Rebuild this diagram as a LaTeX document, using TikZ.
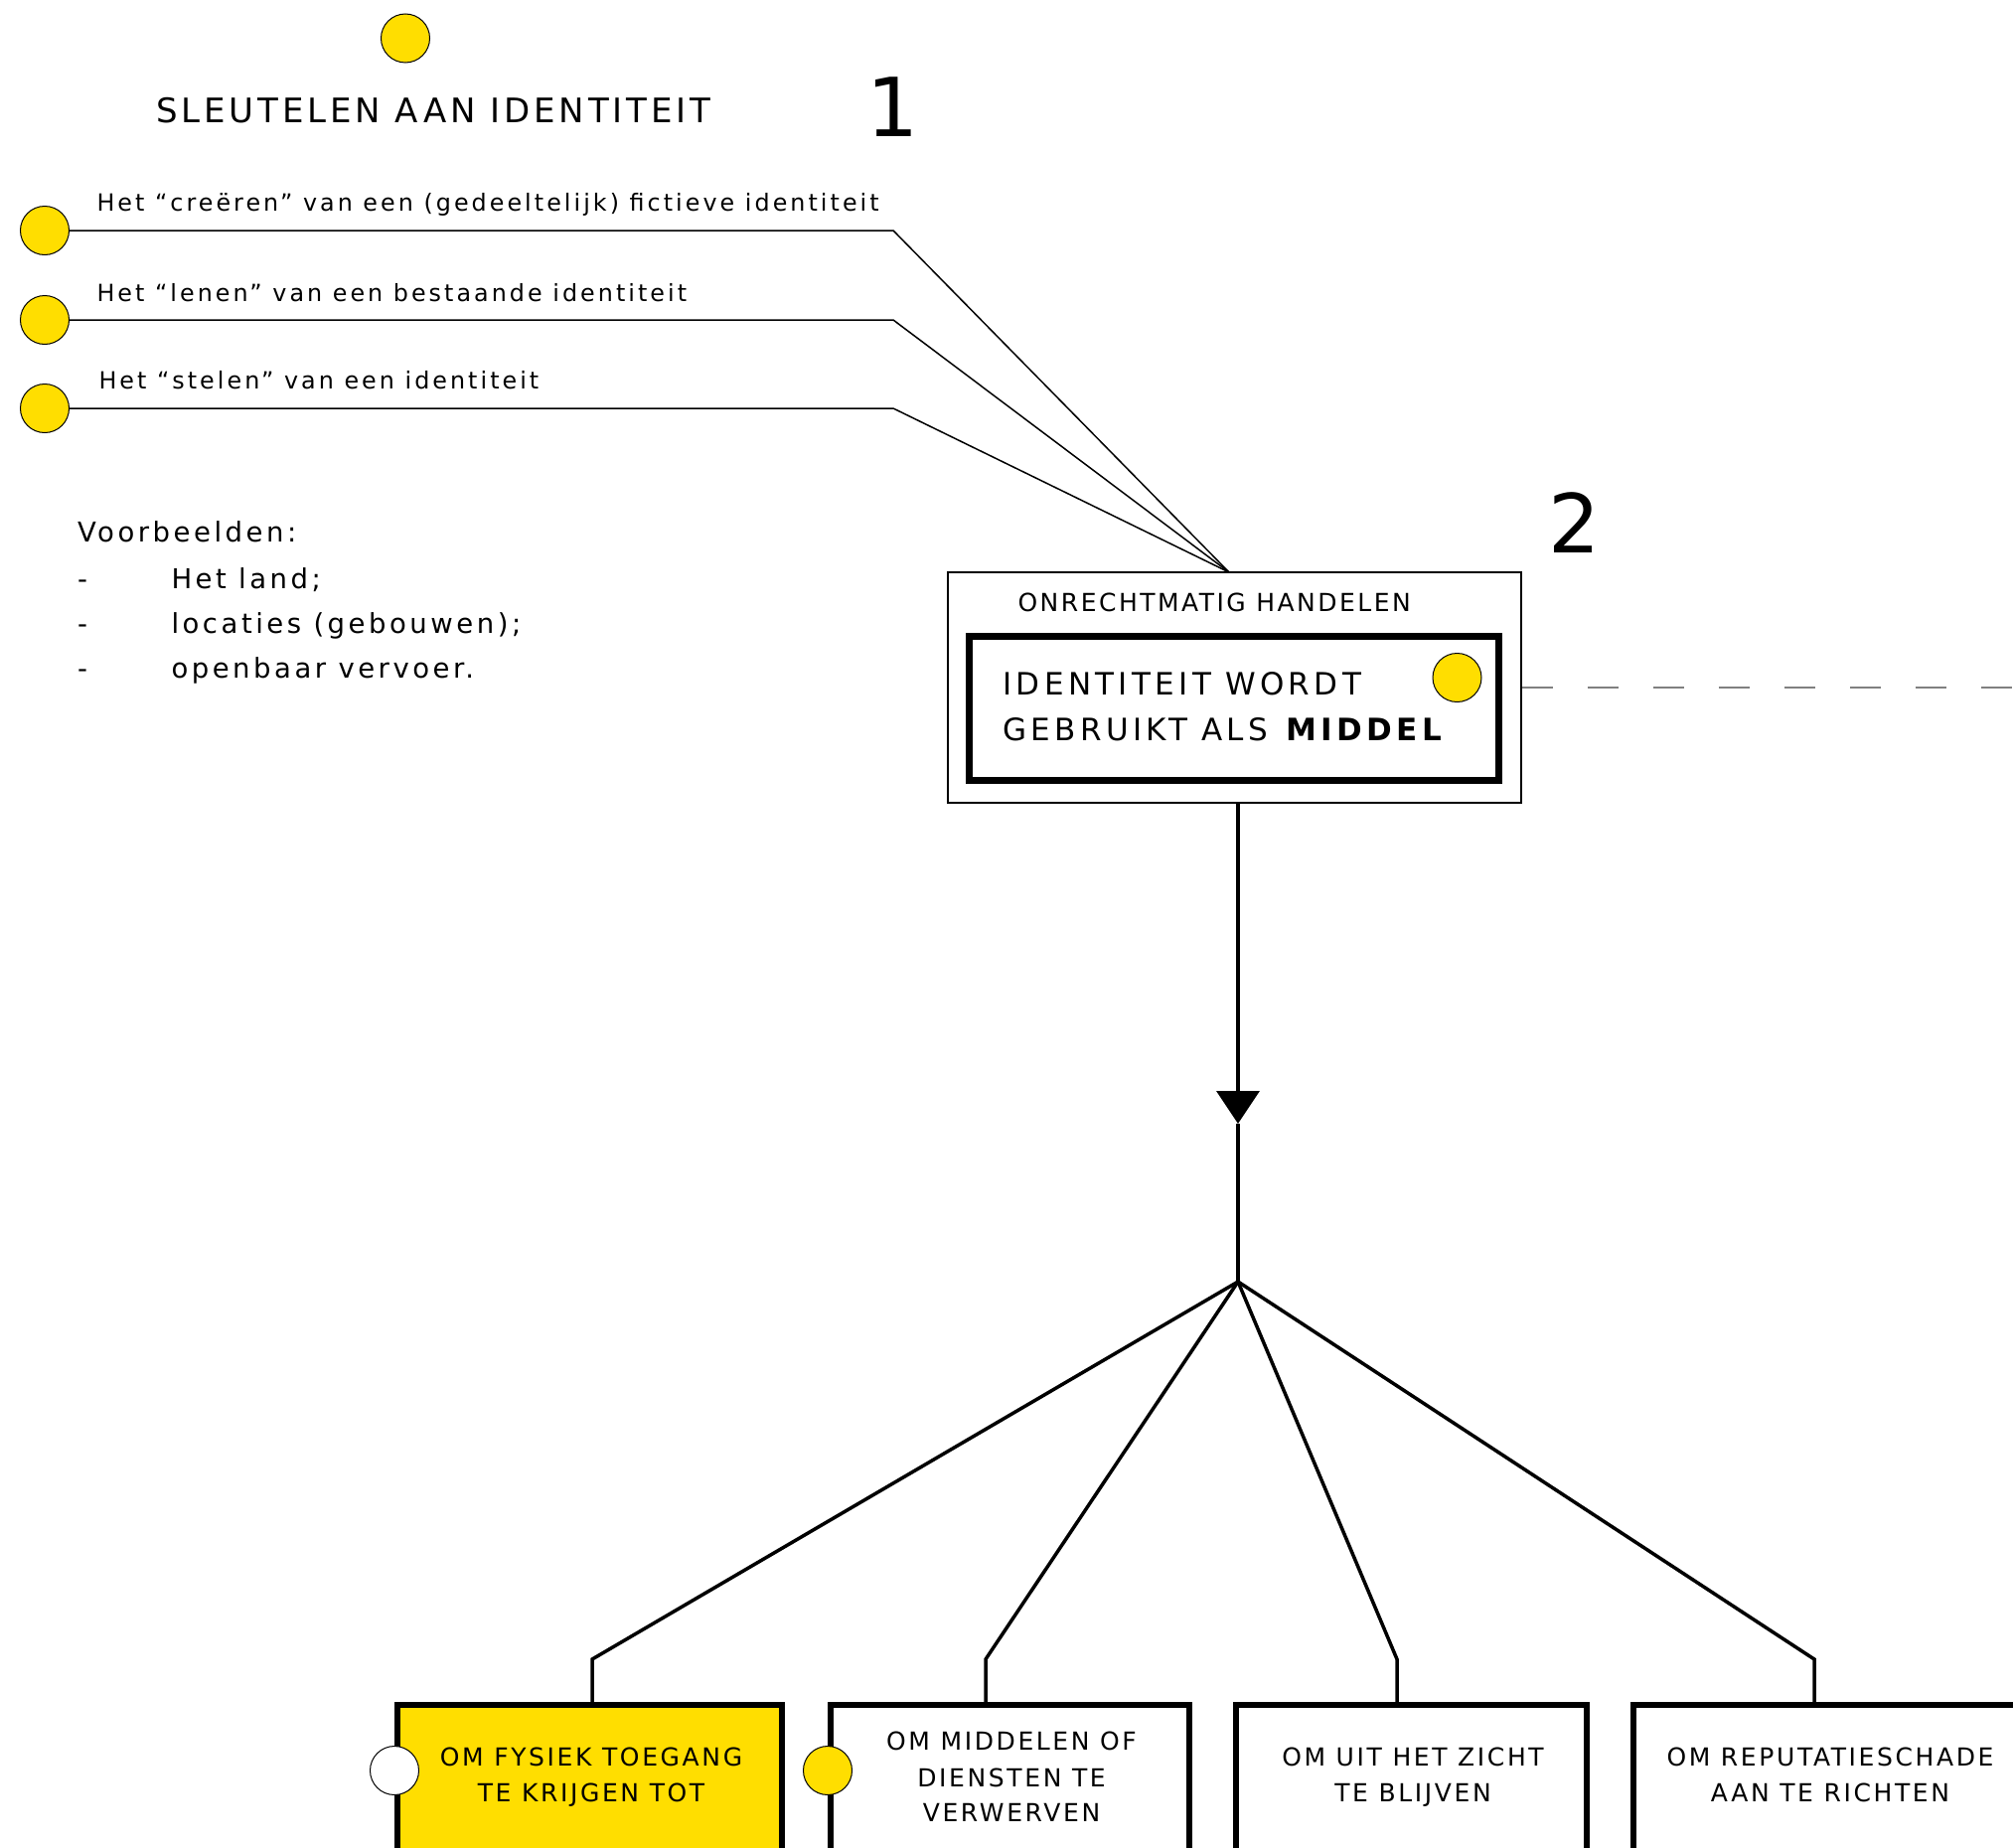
\documentclass[tikz,border=0pt]{standalone}
\usepackage{fontspec}
\setmainfont{DejaVu Sans}[LetterSpace=10.5]
\usetikzlibrary{arrows.meta}
\definecolor{yel}{HTML}{FFDE00}
\definecolor{dgrey}{HTML}{808080}
\begin{document}
\begin{tikzpicture}[x=1pt,y=-1pt,
  dot/.style={circle,draw=black,line width=1pt,fill=yel,minimum size=49pt,inner sep=0pt},
  wdot/.style={dot,fill=white},
  txt/.style={inner sep=0pt,outer sep=0pt,anchor=base west},
  ctxt/.style={inner sep=0pt,outer sep=0pt,anchor=base},
  thin/.style={line width=1.5pt},
  thick/.style={line width=3.5pt},
  goalbox/.style={draw,line width=6pt,inner sep=0pt,minimum height=149pt},
  smalltxt/.style={txt,font=\fontsize{23.8}{28}\selectfont\addfontfeature{LetterSpace=12.8}},
  listtxt/.style={txt,font=\fontsize{27.5}{32}\selectfont\addfontfeature{LetterSpace=12.8}}
]
\useasboundingbox (0,0) rectangle (2026,1860);

% top
\node[dot] (topdot) at (408,38.5) {};
\node[txt,font=\fontsize{34}{40}\selectfont\addfontfeature{LetterSpace=11.5}] (title) at (157,123) {SLEUTELEN AAN IDENTITEIT};
\node[ctxt,font=\fontsize{82}{90}\selectfont\addfontfeature{LetterSpace=0}] (one) at (899,137) {1};
\node[ctxt,font=\fontsize{82}{90}\selectfont\addfontfeature{LetterSpace=0}] (two) at (1584.5,556) {2};

% left dots and texts
\node[dot] (c1) at (45,232) {};
\node[dot] (c2) at (45,322) {};
\node[dot] (c3) at (45,411) {};
\node[smalltxt] (t1) at (97.5,212) {Het “creëren” van een (gedeeltelijk) fictieve identiteit};
\node[smalltxt] (t2) at (97.5,303) {Het “lenen” van een bestaande identiteit};
\node[smalltxt] (t3) at (99.5,391) {Het “stelen” van een identiteit};

% examples
\node[listtxt] (vb) at (78,545) {Voorbeelden:};
\node[listtxt] (d1) at (78,592) {-};
\node[listtxt] (d2) at (78,637) {-};
\node[listtxt] (d3) at (78,682) {-};
\node[listtxt] (e1) at (172.5,592) {Het land;};
\node[listtxt] (e2) at (172.5,637) {locaties (gebouwen);};
\node[listtxt] (e3) at (172.5,682) {openbaar vervoer.};

% central box
\node[draw,line width=1.5pt,minimum width=577pt,minimum height=232pt,inner sep=0pt] (outer) at (1242.5,692) {};
\node[draw,line width=7pt,minimum width=533pt,minimum height=145pt,inner sep=0pt] (inner) at (1242,713) {};
\node[txt,font=\fontsize{25}{30}\selectfont\addfontfeature{LetterSpace=10}] (onr) at (1024.5,615) {ONRECHTMATIG HANDELEN};
\node[txt,font=\fontsize{31}{36}\selectfont\addfontfeature{LetterSpace=14}] (id1) at (1009.5,699) {IDENTITEIT WORDT};
\node[txt,font=\fontsize{31}{36}\selectfont\addfontfeature{LetterSpace=14}] (id2) at (1009.5,745) {GEBRUIKT ALS \textbf{MIDDEL}};
\node[dot] (idot) at (1466.5,682) {};

% connectors from left dots
\coordinate (conv) at (1237,576);
\coordinate (k1) at (899,232);
\coordinate (k2) at (899,322);
\coordinate (k3) at (899,411);
\draw[thin] (c1.east) -- (k1) -- (conv);
\draw[thin] (c2.east) -- (k2) -- (conv);
\draw[thin] (c3.east) -- (k3) -- (conv);

% dashed line to right
\coordinate (rend) at (2030,692);
\draw[line width=2pt,dgrey,dash pattern=on 31pt off 35pt] (outer.east) -- (rend);

% vertical arrow
\coordinate (branch) at (1246,1290);
\coordinate (atip) at (1246,1131);
\draw[thick,-{Triangle[width=43pt,length=33pt]}] (outer.south -| branch) -- (atip);
\draw[thick] (atip) -- (branch);

% bottom boxes
\node[goalbox,fill=yel,minimum width=387pt] (b1) at (593.5,1790.5) {};
\node[goalbox,fill=white,minimum width=361pt] (b2) at (1016.5,1790.5) {};
\node[goalbox,fill=white,minimum width=353pt] (b3) at (1420.5,1790.5) {};
\node[goalbox,fill=white,minimum width=396pt] (b4) at (1842,1790.5) {};

\coordinate (m1) at (596,1670);
\coordinate (m2) at (992,1670);
\coordinate (m3) at (1406,1670);
\coordinate (m4) at (1826,1670);
\draw[thick] (branch) -- (m1) -- (b1.north -| m1);
\draw[thick] (branch) -- (m2) -- (b2.north -| m2);
\draw[thick] (branch) -- (m3) -- (b3.north -| m3);
\draw[thick] (branch) -- (m4) -- (b4.north -| m4);

\begin{scope}[every node/.append style={ctxt,font=\fontsize{25}{36}\selectfont\addfontfeature{LetterSpace=10.5}}]
\node (b1a) at (595,1777) {OM FYSIEK TOEGANG};
\node (b1b) at (595,1813) {TE KRIJGEN TOT};
\node (b2a) at (1018,1761) {OM MIDDELEN OF};
\node (b2b) at (1018,1798) {DIENSTEN TE};
\node (b2c) at (1018,1833) {VERWERVEN};
\node (b3a) at (1422,1777) {OM UIT HET ZICHT};
\node (b3b) at (1422,1813) {TE BLIJVEN};
\node (b4a) at (1842,1777) {OM REPUTATIESCHADE};
\node (b4b) at (1842,1813) {AAN TE RICHTEN};
\end{scope}

\node[wdot] (wd) at (b1.west |- 0,1782) {};
\node[dot] (yd) at (b2.west |- 0,1782) {};
\end{tikzpicture}
\end{document}
